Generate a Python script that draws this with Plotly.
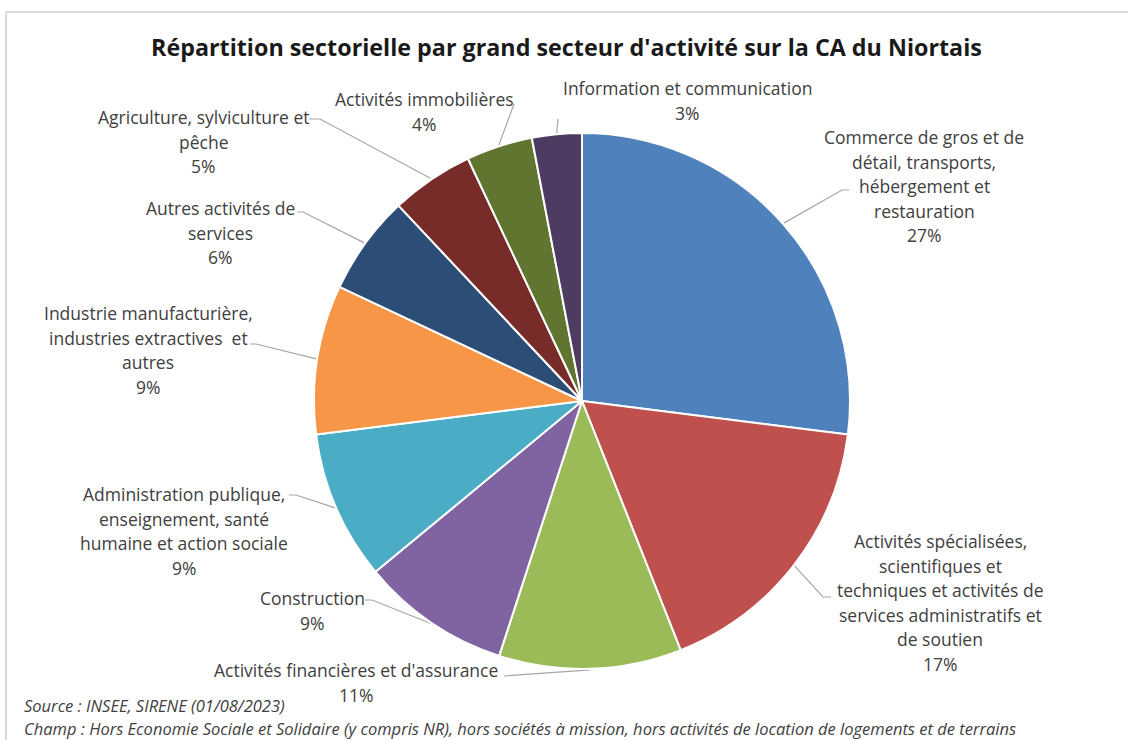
import math
import plotly.graph_objects as go

# ---- data -------------------------------------------------------------
categories = [
    "Commerce de gros et de<br>détail, transports,<br>hébergement et<br>restauration",
    "Activités spécialisées,<br>scientifiques et<br>techniques et activités de<br>services administratifs et<br>de soutien",
    "Activités financières et d'assurance",
    "Construction",
    "Administration publique,<br>enseignement, santé<br>humaine et action sociale",
    "Industrie manufacturière,<br>industries extractives  et<br>autres",
    "Autres activités de<br>services",
    "Agriculture, sylviculture et<br>pêche",
    "Activités immobilières",
    "Information et communication",
]
shares = [27, 17, 11, 9, 9, 9, 6, 5, 4, 3]
colors = ["#4F81BD", "#C0504D", "#9BBB59", "#8064A2", "#4BACC6",
          "#F79646", "#2C4D75", "#772C2A", "#5F7530", "#4D3B62"]

title = "Répartition sectorielle par grand secteur d'activité sur la CA du Niortais"
source_note = "Source : INSEE, SIRENE (01/08/2023)"
scope_note = ("Champ : Hors Economie Sociale et Solidaire (y compris NR), hors sociétés à mission, "
              "hors activités de location de logements et de terrains")

# ---- layout (pixel units) ---------------------------------------------
W, H = 1128, 740
CX, CY, R = 582, 401, 268
LINE_H = 24.5

# label block: centre x, first-line y ; leader: elbow point, end point
label_pos = [
    (924, 137), (940, 541), (356, 670), (312, 598), (184, 494),
    (148, 313), (220, 208), (203, 117), (424, 99), (687, 88),
]
leader_pts = [
    [(842, 190), (849, 190)],
    [(823, 597), (831, 597)],
    [(512, 676), (504, 676)],
    [(372, 600), (365, 600)],
    [(296, 495), (289, 495)],
    [(256, 344), (250, 344)],
    [(303, 212), (297, 212)],
    [(320, 119), (309, 119)],
    [(514, 104)],
    [(558, 119)],
]

FONT = "Open Sans, Liberation Sans, sans-serif"
TXT = "#404040"

fig = go.Figure()

fig.add_trace(go.Pie(
    labels=[c.replace("<br>", " ") for c in categories],
    values=shares,
    marker=dict(colors=colors, line=dict(color="white", width=2)),
    sort=False,
    direction="clockwise",
    rotation=0,
    textinfo="none",
    hoverinfo="label+percent",
    showlegend=False,
    domain=dict(x=[(CX - R) / W, (CX + R) / W],
                y=[(H - CY - R) / H, (H - CY + R) / H]),
))

# leader lines from the middle of each slice's arc to its label
total = sum(shares)
lx, ly = [], []
cum = 0
for v, pts in zip(shares, leader_pts):
    ang = (cum + v / 2) / total * 2 * math.pi
    cum += v
    ax = CX + (R + 1) * math.sin(ang)
    ay = CY - (R + 1) * math.cos(ang)
    lx += [ax] + [p[0] for p in pts] + [None]
    ly += [ay] + [p[1] for p in pts] + [None]

fig.add_trace(go.Scatter(x=lx, y=ly, mode="lines",
                         line=dict(color="#a6a6a6", width=1.2),
                         hoverinfo="skip", showlegend=False))

annotations = []
for name, v, (x0, y0) in zip(categories, shares, label_pos):
    lines = name.split("<br>") + [f"{v}%"]
    for i, t in enumerate(lines):
        annotations.append(dict(x=x0, y=y0 + i * LINE_H, text=t, showarrow=False,
                                xref="x", yref="y", xanchor="center", yanchor="middle",
                                font=dict(family=FONT, size=17.5, color=TXT)))

annotations.append(dict(x=W / 2 + 2, y=47, text=f"<b>{title}</b>", showarrow=False,
                        xref="x", yref="y", xanchor="center", yanchor="middle",
                        font=dict(family=FONT, size=23.3, color="#1a1a1a")))
annotations.append(dict(x=22, y=705, text=f"<i>{source_note}</i>", showarrow=False,
                        xref="x", yref="y", xanchor="left", yanchor="middle",
                        font=dict(family=FONT, size=16.5, color=TXT)))
annotations.append(dict(x=22, y=728, text=f"<i>{scope_note}</i>", showarrow=False,
                        xref="x", yref="y", xanchor="left", yanchor="middle",
                        font=dict(family=FONT, size=16.5, color=TXT)))

fig.update_layout(
    width=W, height=H, autosize=False,
    margin=dict(l=0, r=0, t=0, b=0),
    paper_bgcolor="white", plot_bgcolor="rgba(0,0,0,0)",
    xaxis=dict(range=[0, W], visible=False, fixedrange=True, domain=[0, 1]),
    yaxis=dict(range=[H, 0], visible=False, fixedrange=True, domain=[0, 1]),
    annotations=annotations,
    shapes=[
        dict(type="line", xref="x", yref="y", x0=6, y0=12, x1=W + 5, y1=12,
             line=dict(color="#d9d9d9", width=2)),
        dict(type="line", xref="x", yref="y", x0=6, y0=12, x1=6, y1=H + 5,
             line=dict(color="#d9d9d9", width=2)),
    ],
)

fig.write_html("out.html")
